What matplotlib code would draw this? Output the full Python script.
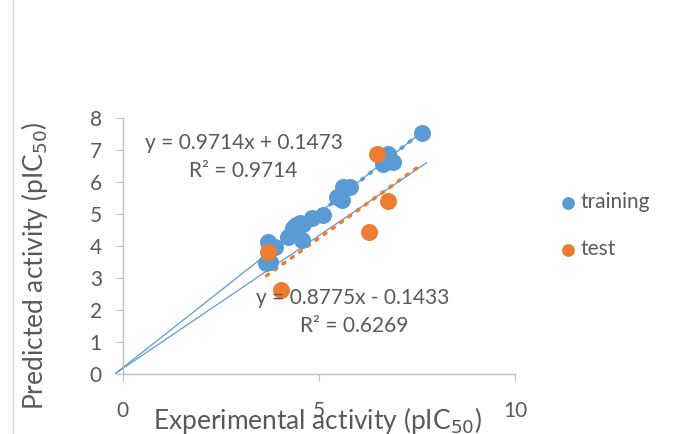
import matplotlib
matplotlib.use("Agg")
import matplotlib.pyplot as plt
import numpy as np

plt.rcParams['font.family'] = ['Lato', 'DejaVu Sans']

# Data
train_x = [3.71, 3.88, 3.75, 3.65, 4.22, 4.35, 4.43, 4.52, 4.56, 4.60, 4.82, 5.11,
           5.45, 5.58, 5.62, 5.79, 6.64, 6.77, 6.90, 6.70, 7.62]
train_y = [4.13, 3.98, 3.51, 3.47, 4.29, 4.55, 4.65, 4.73, 4.18, 4.70, 4.86, 4.96,
           5.53, 5.43, 5.84, 5.83, 6.57, 6.88, 6.62, 6.72, 7.51]
test_x = [3.71, 4.03, 6.29, 6.77, 6.47]
test_y = [3.82, 2.63, 4.45, 5.41, 6.88]

# Trendline coefficients (from equations on chart)
train_slope, train_icpt, train_r2 = 0.9714, 0.1473, 0.9714
test_slope, test_icpt, test_r2 = 0.8775, -0.1433, 0.6269
trend_x_range = [3.67, 7.62]

# Hand-drawn guide lines from origin
guide1_x = [-0.18, 7.62]
guide1_y = [0.03, 7.55]
guide2_x = [-0.18, 7.75]
guide2_y = [0.03, 6.60]

x_ticks = [0, 5, 10]
y_ticks = [0, 1, 2, 3, 4, 5, 6, 7, 8]

BLUE = '#5B9BD5'
ORANGE = '#ED7D31'
GRAY = '#595959'
AXGRAY = '#BFBFBF'

W, H = 683, 434
fig = plt.figure(figsize=(W / 100, H / 100), dpi=100)
ax = fig.add_axes([122.7 / W, 1 - 374.3 / H, (515 - 122.7) / W, (374.3 - 117.7) / H])
ax.set_xlim(0, 10)
ax.set_ylim(0, 8)
ax.patch.set_alpha(0)

for s in ['top', 'right']:
    ax.spines[s].set_visible(False)
for s in ['left', 'bottom']:
    ax.spines[s].set_color(AXGRAY)
    ax.spines[s].set_linewidth(1)

ax.set_xticks(x_ticks)
ax.set_yticks(y_ticks)
ax.tick_params(axis='x', direction='out', length=5, color=AXGRAY, labelcolor=GRAY,
               labelsize=15, pad=14)
ax.tick_params(axis='y', direction='out', length=5, color=AXGRAY, labelcolor=GRAY,
               labelsize=15, pad=10)

# guide lines
ax.plot(guide1_x, guide1_y, color=BLUE, lw=0.9, clip_on=False, zorder=2)
ax.plot(guide2_x, guide2_y, color=BLUE, lw=0.9, clip_on=False, zorder=2)

# trendlines
tx = np.array(trend_x_range)
ax.plot(tx, train_slope * tx + train_icpt, color=BLUE, lw=2.6,
        linestyle=(0, (0.6, 2.2)), dash_capstyle='round', zorder=2)
ax.plot(tx, test_slope * tx + test_icpt, color=ORANGE, lw=2.6,
        linestyle=(0, (0.6, 2.2)), dash_capstyle='round', zorder=2)

# scatter
ax.scatter(train_x, train_y, s=150, color=BLUE, zorder=3, label='training', linewidths=0)
ax.scatter(test_x, test_y, s=150, color=ORANGE, zorder=4, label='test', linewidths=0)

# equation text
fs_eq = 15
fig.text(244 / W, 1 - 143 / H, f'y = {train_slope:.4f}x + {train_icpt:.4f}',
         ha='center', va='center', fontsize=fs_eq, color=GRAY)
fig.text(243 / W, 1 - 171 / H, f'R² = {train_r2:.4f}',
         ha='center', va='center', fontsize=fs_eq, color=GRAY)
fig.text(353 / W, 1 - 298 / H, f'y = {test_slope:.4f}x - {abs(test_icpt):.4f}',
         ha='center', va='center', fontsize=fs_eq, color=GRAY)
fig.text(354 / W, 1 - 326 / H, f'R² = {test_r2:.4f}',
         ha='center', va='center', fontsize=fs_eq, color=GRAY)

# axis labels
fig.text(318 / W, 1 - 420 / H, 'Experimental activity (pIC$_{50}$)',
         ha='center', va='center', fontsize=19, color=GRAY)
fig.text(35 / W, 1 - 266 / H, 'Predicted activity (pIC$_{50}$)',
         ha='center', va='center', fontsize=19, color=GRAY, rotation=90)

# legend
leg = ax.legend(loc='upper left', bbox_to_anchor=(560 / W, 1 - 192 / H),
                bbox_transform=fig.transFigure, frameon=False, fontsize=15,
                labelcolor=GRAY, handlelength=0.8, handletextpad=0.2,
                labelspacing=1.3, markerscale=0.75, borderaxespad=0, borderpad=0)

# left border
fig.add_artist(plt.Line2D([13 / W, 13 / W], [0, 1], transform=fig.transFigure,
                          color='#D9D9D9', lw=1))

fig.savefig('out.png', dpi=100)
